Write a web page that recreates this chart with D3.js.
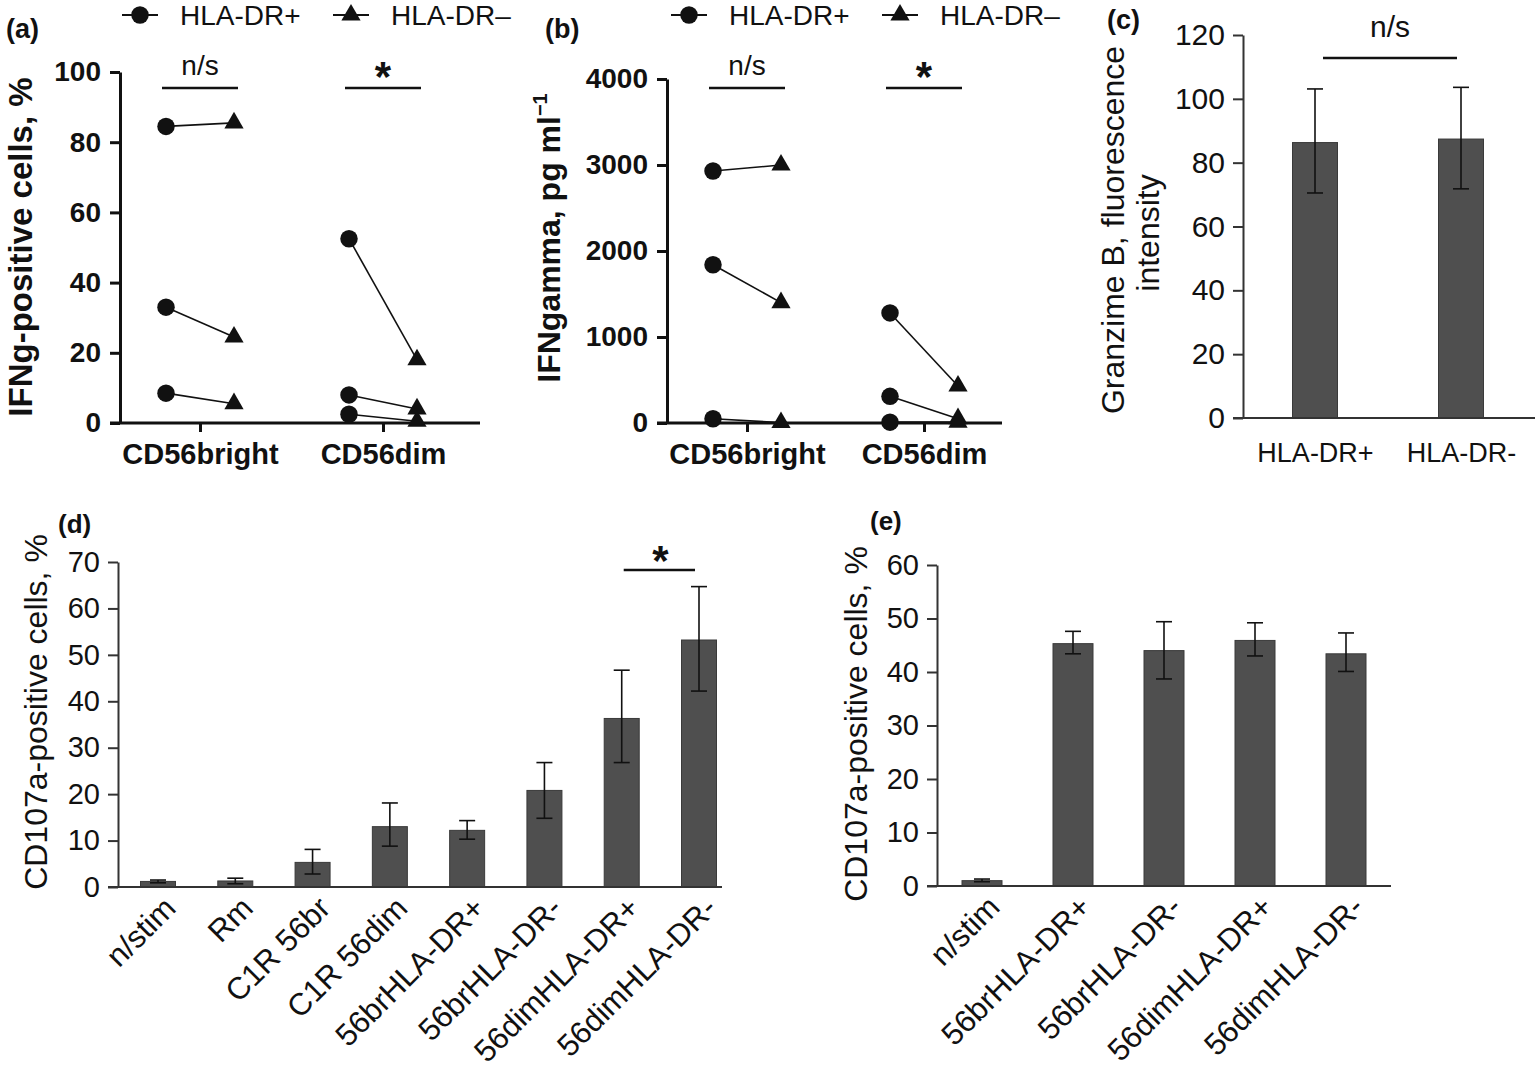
<!DOCTYPE html>
<html><head><meta charset="utf-8">
<script src="https://cdn.jsdelivr.net/npm/d3@7"></script>
<style>body{margin:0;background:#fff}svg{display:block}</style>
</head><body><svg id="c" width="1535" height="1074"></svg>
<script>
// ---------- data ----------
const groupsAB = ["CD56bright", "CD56dim"];
const legendLabels = ["HLA-DR+", "HLA-DR–"];
const sigAB = ["n/s", "*"];
// panel a: IFNg-positive cells, %  (3 donors, paired)
const ifngPctBrightPlus  = [84.5, 33, 8.5];
const ifngPctBrightMinus = [85.5, 24.5, 5.5];
const ifngPctDimPlus     = [52.5, 8, 2.5];
const ifngPctDimMinus    = [18, 4, 0.5];
const ticksA = [0, 20, 40, 60, 80, 100];
// panel b: IFNgamma, pg/ml
const ifngPgBrightPlus  = [2930, 1840, 50];
const ifngPgBrightMinus = [3000, 1400, 5];
const ifngPgDimPlus     = [1280, 310, 10];
const ifngPgDimMinus    = [430, 50, 10];
const ticksB = [0, 1000, 2000, 3000, 4000];
// panel c: Granzime B
const granzCats = ["HLA-DR+", "HLA-DR-"];
const granzMean = [86.3, 87.4];
const granzLow  = [70.5, 71.8];
const granzHigh = [103.1, 103.6];
const ticksC = [0, 20, 40, 60, 80, 100, 120];
// panel d: CD107a
const cd107Cats = ["n/stim", "Rm", "C1R 56br", "C1R 56dim", "56brHLA-DR+", "56brHLA-DR-", "56dimHLA-DR+", "56dimHLA-DR-"];
const cd107Mean = [1.2, 1.3, 5.3, 13.0, 12.2, 20.8, 36.3, 53.2];
const cd107Low  = [0.9, 0.7, 2.8, 8.8, 10.3, 14.8, 26.8, 42.2];
const cd107High = [1.5, 1.9, 8.1, 18.1, 14.3, 26.8, 46.7, 64.7];
const ticksD = [0, 10, 20, 30, 40, 50, 60, 70];
// panel e: CD107a
const cd107eCats = ["n/stim", "56brHLA-DR+", "56brHLA-DR-", "56dimHLA-DR+", "56dimHLA-DR-"];
const cd107eMean = [1.0, 45.3, 44.0, 45.9, 43.4];
const cd107eLow  = [0.8, 43.4, 38.7, 43.0, 40.1];
const cd107eHigh = [1.3, 47.6, 49.4, 49.2, 47.3];
const ticksE = [0, 10, 20, 30, 40, 50, 60];

// ---------- helpers ----------
const FONT = '"Liberation Sans", Arial, Helvetica, sans-serif';
const svg = d3.select("#c");
const BAR = "#4f4f4f";

function txt(g, s, x, y, size, opts = {}) {
  return g.append("text").attr("x", x).attr("y", y)
    .attr("font-family", FONT).attr("font-size", size)
    .attr("font-weight", opts.bold ? "bold" : "normal")
    .attr("text-anchor", opts.anchor || "start")
    .attr("fill", "#111").text(s);
}
function rotLabel(g, s, x, y, size, bold) {
  return g.append("text").attr("transform", `translate(${x},${y}) rotate(-90)`)
    .attr("font-family", FONT).attr("font-size", size)
    .attr("font-weight", bold ? "bold" : "normal")
    .attr("text-anchor", "middle").attr("fill", "#111").text(s);
}
function styleAxis(ax, size, bold, width, color) {
  ax.select(".domain").attr("stroke", color).attr("stroke-width", width);
  ax.selectAll(".tick line").attr("stroke", color).attr("stroke-width", width);
  ax.selectAll(".tick text").attr("font-family", FONT).attr("font-size", size)
    .attr("font-weight", bold ? "bold" : "normal").attr("fill", "#111");
}
function legend(g, x0, y) {
  g.append("line").attr("x1", x0).attr("x2", x0 + 36).attr("y1", y).attr("y2", y).attr("stroke", "#111").attr("stroke-width", 2);
  g.append("path").attr("d", d3.symbol(d3.symbolCircle, 240)()).attr("transform", `translate(${x0 + 18},${y})`).attr("fill", "#111");
  txt(g, legendLabels[0], x0 + 58, y + 10, 28);
  const x1 = x0 + 211;
  g.append("line").attr("x1", x1).attr("x2", x1 + 36).attr("y1", y).attr("y2", y).attr("stroke", "#111").attr("stroke-width", 2);
  g.append("path").attr("d", d3.symbol(d3.symbolTriangle, 160)()).attr("transform", `translate(${x1 + 18},${y})`).attr("fill", "#111");
  txt(g, legendLabels[1], x1 + 58, y + 10, 28);
}

function pairedPanel(cfg) {
  const g = svg.append("g");
  const y = d3.scaleLinear().domain(cfg.domain).range([423, cfg.top]);
  const x = d3.scalePoint().domain(groupsAB).range(cfg.xr);
  const ay = g.append("g").attr("transform", `translate(${cfg.axisX},0)`)
    .call(d3.axisLeft(y).tickValues(cfg.ticks).tickSize(10).tickPadding(9).tickSizeOuter(0).tickFormat(d3.format("d")));
  styleAxis(ay, 28, true, 3, "#111");
  const ax = g.append("g").attr("transform", `translate(0,423)`)
    .call(d3.axisBottom(x).tickSize(9).tickPadding(11));
  ax.select(".domain").remove();
  styleAxis(ax, 29, true, 3, "#111");
  g.append("line").attr("x1", cfg.axisX - 10).attr("x2", cfg.xEnd).attr("y1", 423).attr("y2", 423)
    .attr("stroke", "#111").attr("stroke-width", 3);
  const off = 34;
  cfg.series.forEach(([grp, plus, minus]) => {
    const cx = x(grp);
    plus.forEach((v, i) => {
      g.append("line").attr("x1", cx - off).attr("y1", y(v)).attr("x2", cx + off).attr("y2", y(minus[i]))
        .attr("stroke", "#111").attr("stroke-width", 1.6);
    });
    plus.forEach(v => g.append("path").attr("d", d3.symbol(d3.symbolCircle, 240)())
      .attr("transform", `translate(${cx - off},${y(v)})`).attr("fill", "#111"));
    minus.forEach(v => g.append("path").attr("d", d3.symbol(d3.symbolTriangle, 160)())
      .attr("transform", `translate(${cx + off},${y(v)})`).attr("fill", "#111"));
  });
  groupsAB.forEach((grp, i) => {
    const cx = x(grp);
    g.append("line").attr("x1", cx - 38).attr("x2", cx + 38).attr("y1", 88).attr("y2", 88)
      .attr("stroke", "#111").attr("stroke-width", 2.5);
    if (i === 0) txt(g, sigAB[0], cx, 75, 28, { anchor: "middle" });
    else txt(g, sigAB[1], cx, 91, 42, { anchor: "middle", bold: true });
  });
  return g;
}

// ---------- panel a ----------
const gA = pairedPanel({
  domain: [0, 100], top: 72, ticks: ticksA, axisX: 120, xr: [200, 383], xEnd: 480,
  series: [[groupsAB[0], ifngPctBrightPlus, ifngPctBrightMinus], [groupsAB[1], ifngPctDimPlus, ifngPctDimMinus]]
});
txt(gA, "(a)", 6, 38, 27, { bold: true });
legend(gA, 122, 15);
rotLabel(gA, "IFNg-positive cells, %", 32, 247, 33, true);

// ---------- panel b ----------
const gB = pairedPanel({
  domain: [0, 4000], top: 79, ticks: ticksB, axisX: 667, xr: [747, 924], xEnd: 1002,
  series: [[groupsAB[0], ifngPgBrightPlus, ifngPgBrightMinus], [groupsAB[1], ifngPgDimPlus, ifngPgDimMinus]]
});
txt(gB, "(b)", 545, 38, 27, { bold: true });
legend(gB, 671, 15);
{
  const t = rotLabel(gB, "", 560, 238, 32, true);
  t.append("tspan").text("IFNgamma, pg ml");
  t.append("tspan").attr("dy", -13).attr("font-size", 20).text("−1");
}

// ---------- bar panel helper ----------
function barPanel(cfg) {
  const g = svg.append("g");
  const y = d3.scaleLinear().domain(cfg.domain).range([cfg.y0, cfg.top]);
  const x = d3.scalePoint().domain(cfg.cats).range(cfg.xr);
  const ay = g.append("g").attr("transform", `translate(${cfg.axisX},0)`)
    .call(d3.axisLeft(y).tickValues(cfg.ticks).tickSize(10).tickPadding(8).tickSizeOuter(0));
  styleAxis(ay, cfg.tickSize || 29, false, 2, "#333");
  cfg.cats.forEach((c, i) => {
    const cx = x(c);
    g.append("rect").attr("x", cx - cfg.bw / 2).attr("y", y(cfg.mean[i]))
      .attr("width", cfg.bw).attr("height", y(0) - y(cfg.mean[i]))
      .attr("fill", BAR).attr("stroke", "#3a3a3a").attr("stroke-width", 1);
    const hi = y(cfg.high[i]), lo = y(cfg.low[i]);
    g.append("line").attr("x1", cx).attr("x2", cx).attr("y1", hi).attr("y2", lo).attr("stroke", "#111").attr("stroke-width", 1.6);
    [hi, lo].forEach(yy => g.append("line").attr("x1", cx - 8).attr("x2", cx + 8).attr("y1", yy).attr("y2", yy)
      .attr("stroke", "#111").attr("stroke-width", 1.6));
  });
  const ax = g.append("g").attr("transform", `translate(0,${cfg.y0})`)
    .call(d3.axisBottom(x).tickSize(0).tickPadding(cfg.pad || 26));
  ax.select(".domain").remove();
  styleAxis(ax, cfg.labelSize || 26, false, 2, "#333");
  if (cfg.rotate) {
    ax.selectAll(".tick text").attr("y", null).attr("dy", null)
      .attr("transform", "translate(19,23) rotate(-45)").attr("text-anchor", "end");
  }
  g.append("line").attr("x1", cfg.axisX - 10).attr("x2", cfg.xEnd).attr("y1", cfg.y0).attr("y2", cfg.y0)
    .attr("stroke", "#333").attr("stroke-width", 2);
  return { g, x, y };
}

// ---------- panel c ----------
const C = barPanel({
  domain: [0, 120], y0: 418, top: 35, ticks: ticksC, axisX: 1243, cats: granzCats, xr: [1315, 1461],
  bw: 45, mean: granzMean, low: granzLow, high: granzHigh, xEnd: 1535, pad: 25, labelSize: 27, tickSize: 30
});
txt(C.g, "(c)", 1107, 29, 27, { bold: true });
C.g.append("line").attr("x1", 1323).attr("x2", 1457).attr("y1", 58).attr("y2", 58).attr("stroke", "#111").attr("stroke-width", 2.5);
txt(C.g, "n/s", 1390, 37, 30, { anchor: "middle" });
rotLabel(C.g, "Granzime B, fluorescence", 1124, 230, 32, false);
rotLabel(C.g, "intensity", 1159, 233, 32, false);

// ---------- panel d ----------
const D = barPanel({
  domain: [0, 70], y0: 887, top: 562, ticks: ticksD, axisX: 118, cats: cd107Cats, xr: [158, 699],
  bw: 35, mean: cd107Mean, low: cd107Low, high: cd107High, xEnd: 722, rotate: true, labelSize: 31
});
txt(D.g, "(d)", 58, 533, 26, { bold: true });
D.g.append("line").attr("x1", D.x(cd107Cats[6]) + 2).attr("x2", D.x(cd107Cats[7]) - 4).attr("y1", 570).attr("y2", 570)
  .attr("stroke", "#111").attr("stroke-width", 2.5);
txt(D.g, "*", (D.x(cd107Cats[6]) + D.x(cd107Cats[7])) / 2, 575, 42, { anchor: "middle", bold: true });
rotLabel(D.g, "CD107a-positive cells,  %", 47, 712, 32, false);

// ---------- panel e ----------
const E = barPanel({
  domain: [0, 60], y0: 886, top: 565, ticks: ticksE, axisX: 937, cats: cd107eCats, xr: [982, 1346],
  bw: 40, mean: cd107eMean, low: cd107eLow, high: cd107eHigh, xEnd: 1391, rotate: true, labelSize: 31
});
txt(E.g, "(e)", 870, 530, 26, { bold: true });
rotLabel(E.g, "CD107a-positive cells,  %", 867, 724, 32, false);
</script></body></html>
